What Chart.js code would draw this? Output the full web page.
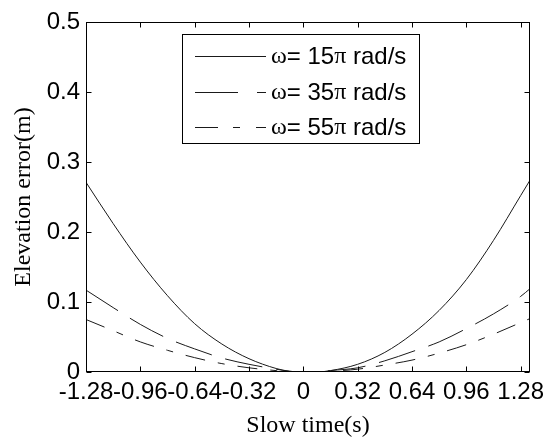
<!DOCTYPE html>
<html>
<head>
<meta charset="utf-8">
<script src="https://cdn.jsdelivr.net/npm/chart.js@4"></script>
<style>
  body { margin: 0; background: #fff; }
  canvas { display: block; }
</style>
</head>
<body>
<canvas id="errChart" width="543" height="439"></canvas>
<script>
// slow time samples (s)
const slowTime = [-1.28, -1.12, -0.96, -0.80, -0.64, -0.48, -0.32, -0.16, -0.08, 0, 0.08, 0.16, 0.32, 0.48, 0.64, 0.80, 0.96, 1.12, 1.28, 1.335];

// elevation error (m)
const err15 = [0.271, 0.212, 0.157, 0.109, 0.069, 0.040, 0.019, 0.005, 0.001, 0, 0, 0.002, 0.011, 0.028, 0.054, 0.088, 0.132, 0.188, 0.252, 0.274];
const err35 = [0.117, 0.092, 0.068, 0.048, 0.033, 0.020, 0.011, 0.004, 0.001, 0, 0, 0.002, 0.006, 0.016, 0.029, 0.043, 0.062, 0.083, 0.108, 0.119];
const err55 = [0.075, 0.059, 0.043, 0.031, 0.0205, 0.012, 0.006, 0.002, 0.0005, 0, 0, 0.001, 0.004, 0.010, 0.017, 0.027, 0.039, 0.054, 0.0706, 0.0763];

const seriesNames = ['15', '35', '55'];

const xTicks = [-1.28, -0.96, -0.64, -0.32, 0, 0.32, 0.64, 0.96, 1.28];
const xTickLabels = ['-1.28', '-0.96', '-0.64', '-0.32', '0', '0.32', '0.64', '0.96', '1.28'];
const yTicks = [0, 0.1, 0.2, 0.3, 0.4, 0.5];
const yTickLabels = ['0', '0.1', '0.2', '0.3', '0.4', '0.5'];

const lineColor = '#1a1a1a';
const dashes = [[], [38, 14], [20, 13, 7, 13]];
// dash look of the little legend samples
const legendDashes = [[], [43, 19, 9, 100], [23, 15, 7, 16, 10, 100]];

const toPoints = ys => ys.map((v, i) => ({ x: slowTime[i], y: v }));

// box, inward ticks and the legend, MATLAB style
const framePlugin = {
  id: 'frame',
  afterDraw(chart) {
    const { ctx, chartArea: a, scales: { x, y } } = chart;
    const L = Math.round(a.left) + 0.5, R = Math.round(a.right) - 0.5;
    const T = Math.round(a.top) + 0.5, B = Math.round(a.bottom) - 0.5;
    ctx.save();
    ctx.strokeStyle = '#000';
    ctx.lineWidth = 1;
    ctx.setLineDash([]);
    ctx.strokeRect(L, T, R - L, B - T);
    ctx.beginPath();
    x.ticks.forEach(t => {
      const px = Math.round(x.getPixelForValue(t.value)) + 0.5;
      ctx.moveTo(px, B); ctx.lineTo(px, B - 5);
      ctx.moveTo(px, T); ctx.lineTo(px, T + 5);
    });
    y.ticks.forEach(t => {
      const py = Math.round(y.getPixelForValue(t.value)) + 0.5;
      ctx.moveTo(L, py); ctx.lineTo(L + 5, py);
      ctx.moveTo(R, py); ctx.lineTo(R - 5, py);
    });
    ctx.stroke();

    // legend
    const bx = 182.5, by = 34.5, bw = 237, bh = 109;
    ctx.fillStyle = '#fff';
    ctx.fillRect(bx, by, bw, bh);
    ctx.strokeRect(bx, by, bw, bh);
    const rows = [56, 92, 127];
    rows.forEach((ry, i) => {
      ctx.beginPath();
      ctx.strokeStyle = lineColor;
      ctx.setLineDash(legendDashes[i]);
      ctx.moveTo(195, ry + 0.5);
      ctx.lineTo(266, ry + 0.5);
      ctx.stroke();
      ctx.setLineDash([]);
      ctx.fillStyle = '#000';
      ctx.textBaseline = 'middle';
      let tx = 271;
      const parts = [
        ['ω', '24px "Liberation Serif"'],
        ['= ' + seriesNames[i], '24px "Liberation Sans"'],
        ['π', '24px "Liberation Serif"'],
        [' rad/s', '24px "Liberation Sans"']
      ];
      parts.forEach(([s, f]) => {
        ctx.font = f;
        ctx.fillText(s, tx, ry + 1);
        tx += ctx.measureText(s).width;
      });
    });
    ctx.restore();
  }
};

const ctx = document.getElementById('errChart').getContext('2d');
new Chart(ctx, {
  type: 'line',
  data: {
    datasets: [err15, err35, err55].map((d, i) => ({
      label: 'ω= ' + seriesNames[i] + 'π rad/s',
      data: toPoints(d),
      borderColor: lineColor,
      borderWidth: 1,
      borderDash: dashes[i],
      pointRadius: 0,
      fill: false,
      cubicInterpolationMode: 'monotone'
    }))
  },
  options: {
    responsive: false,
    animation: false,
    layout: { padding: { top: 22, right: 13, left: 0, bottom: 0 } },
    plugins: {
      legend: { display: false },
      tooltip: { enabled: false }
    },
    scales: {
      x: {
        type: 'linear',
        min: -1.28,
        max: 1.335,
        afterBuildTicks: s => { s.ticks = xTicks.map(v => ({ value: v })); },
        afterFit: s => { s.height = 67; s.paddingLeft = 0; s.paddingRight = 0; },
        grid: { display: false, drawTicks: false },
        border: { display: false },
        ticks: {
          color: '#000',
          padding: 6,
          maxRotation: 0,
          autoSkip: false,
          font: { family: 'Liberation Sans', size: 24 },
          callback: (v, i) => xTickLabels[i]
        },
        title: {
          display: true,
          text: 'Slow time(s)',
          color: '#000',
          font: { family: 'Liberation Serif', size: 24, lineHeight: 1 },
          padding: { top: 0, bottom: 1 }
        }
      },
      y: {
        min: 0,
        max: 0.5,
        afterBuildTicks: s => { s.ticks = yTicks.map(v => ({ value: v })); },
        afterFit: s => { s.width = 86; s.paddingTop = 0; s.paddingBottom = 0; },
        grid: { display: false, drawTicks: false },
        border: { display: false },
        ticks: {
          color: '#000',
          padding: 6,
          autoSkip: false,
          font: { family: 'Liberation Sans', size: 24 },
          callback: (v, i) => yTickLabels[i]
        },
        title: {
          display: true,
          text: 'Elevation error(m)',
          color: '#000',
          font: { family: 'Liberation Serif', size: 24, lineHeight: 1 },
          padding: { top: 12, bottom: 0 }
        }
      }
    }
  },
  plugins: [framePlugin]
});
</script>
</body>
</html>
